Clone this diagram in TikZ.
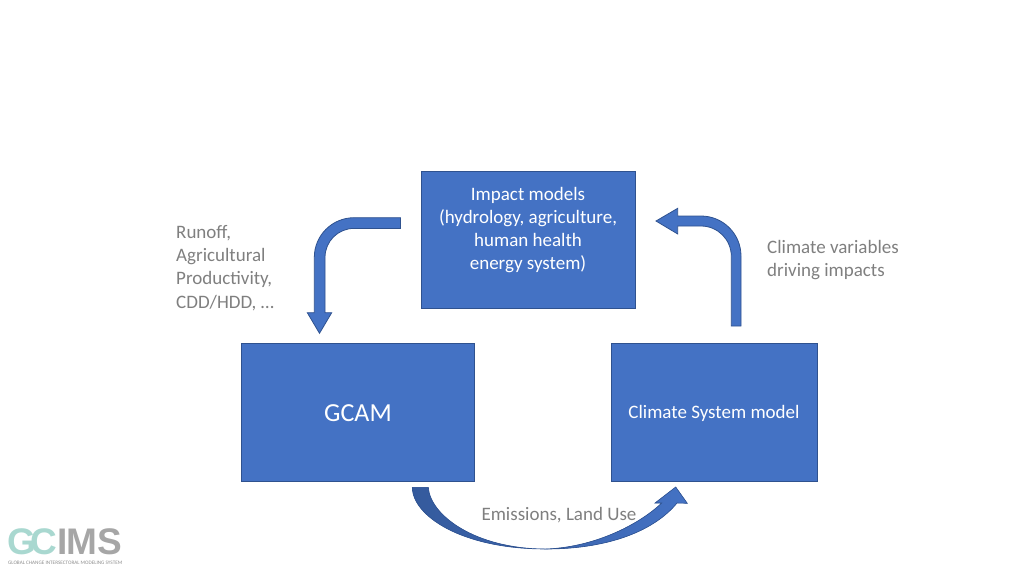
\documentclass[tikz,border=0pt]{standalone}
\usepackage{fontspec}
\setmainfont{Carlito}
\newfontfamily\logofont{Liberation Sans}
\definecolor{boxblue}{HTML}{4472C4}
\definecolor{boxedge}{HTML}{2F528F}
\definecolor{labgrey}{HTML}{7F7F7F}
\definecolor{logoteal}{HTML}{A9D8D0}
\definecolor{logogrey}{HTML}{A6A6A6}
\tikzset{
  modelbox/.style={draw=boxedge,line width=0.9pt,fill=boxblue,text=white,align=center,anchor=north west,inner sep=0pt},
  flowarrow/.style={draw=boxedge,line width=0.8pt,fill=boxblue,line join=miter},
  lab/.style={text=labgrey,align=left,anchor=west,font=\fontsize{19}{23.3}\selectfont,inner sep=0pt}
}
\begin{document}
\begin{tikzpicture}[x=1pt,y=-1pt]
\useasboundingbox (0,0) rectangle (1024,576);
\node[modelbox,minimum width=214pt,minimum height=137pt] (impact) at (421,171) {};
\node[text=white,align=center,font=\fontsize{19}{23.1}\selectfont,inner sep=0pt] (impacttext) at (528,230) {Impact models\\(hydrology, agriculture,\\human health\\energy system)};
\node[modelbox,minimum width=233pt,minimum height=138pt] (gcam) at (241,343) {};
\node[text=white,font=\fontsize{26}{30}\selectfont,inner sep=0pt] (gcamtext) at (358,413) {GCAM};
\node[modelbox,minimum width=205.5pt,minimum height=138pt] (climate) at (611,343) {};
\node[text=white,font=\fontsize{19}{23}\selectfont,inner sep=0pt] (climatetext) at (714,413) {Climate System model};
\node[lab] (runoff) at (176,268.5) {\begin{tabular}{@{}l@{}}Runoff,\\Agricultural\\Productivity,\\CDD/HDD, …\end{tabular}};
\node[lab] (vars) at (767,260) {\begin{tabular}{@{}l@{}}Climate variables\\driving impacts\end{tabular}};
\node[lab,anchor=center] (emis) at (559,515) {Emissions, Land Use};
% bent arrow left
\draw[flowarrow] (400.5,217.7) -- (354,217.7) arc[start angle=-90,end angle=-180,radius=39.7] -- (314.3,312.7) -- (307.3,312.7) -- (319.5,333.3) -- (331.7,312.7) -- (325,312.7) -- (325,257.4) arc[start angle=180,end angle=270,radius=29] -- (400.5,228.4) -- cycle;
% bent arrow right
\draw[flowarrow] (741,326) -- (741,256) arc[start angle=0,end angle=-90,radius=40] -- (677.7,216) -- (677.7,208.3) -- (656,221) -- (677.7,234) -- (677.7,226) -- (701,226) arc[start angle=-90,end angle=0,radius=30.3] -- (731.3,326) -- cycle;
% curved arrow
\draw[flowarrow,line width=0.6pt,left color=boxedge!75!boxblue,right color=boxblue] (412.3,487.3) -- (428.3,487.3)
  .. controls (430,515) and (475,549) .. (546,549)
  .. controls (598,547) and (642,522) .. (661.7,503)
  -- (655,503) -- (675.7,487) -- (687.3,503.3) -- (677,503)
  .. controls (655,530) and (610,549) .. (546,549)
  .. controls (460,549) and (412.3,515) .. (412.3,487.3) -- cycle;
% logo
\node[text=logoteal,font=\logofont\fontsize{37}{37}\bfseries\selectfont,inner sep=0pt,anchor=west] (logog) at (7,541.5) {G\kern-5pt C};
\node[text=logogrey,font=\logofont\fontsize{37}{37}\bfseries\selectfont,inner sep=0pt,anchor=west] (logoims) at (57,541.5) {I\kern-0.8pt M\kern-0.4pt S};
\node[text=logogrey!85!black,font=\fontsize{5.2}{5.2}\selectfont,inner sep=0pt,anchor=west] (logotag) at (8,562.5) {GLOBAL CHANGE INTERSECTORAL MODELING SYSTEM};
\end{tikzpicture}
\end{document}
